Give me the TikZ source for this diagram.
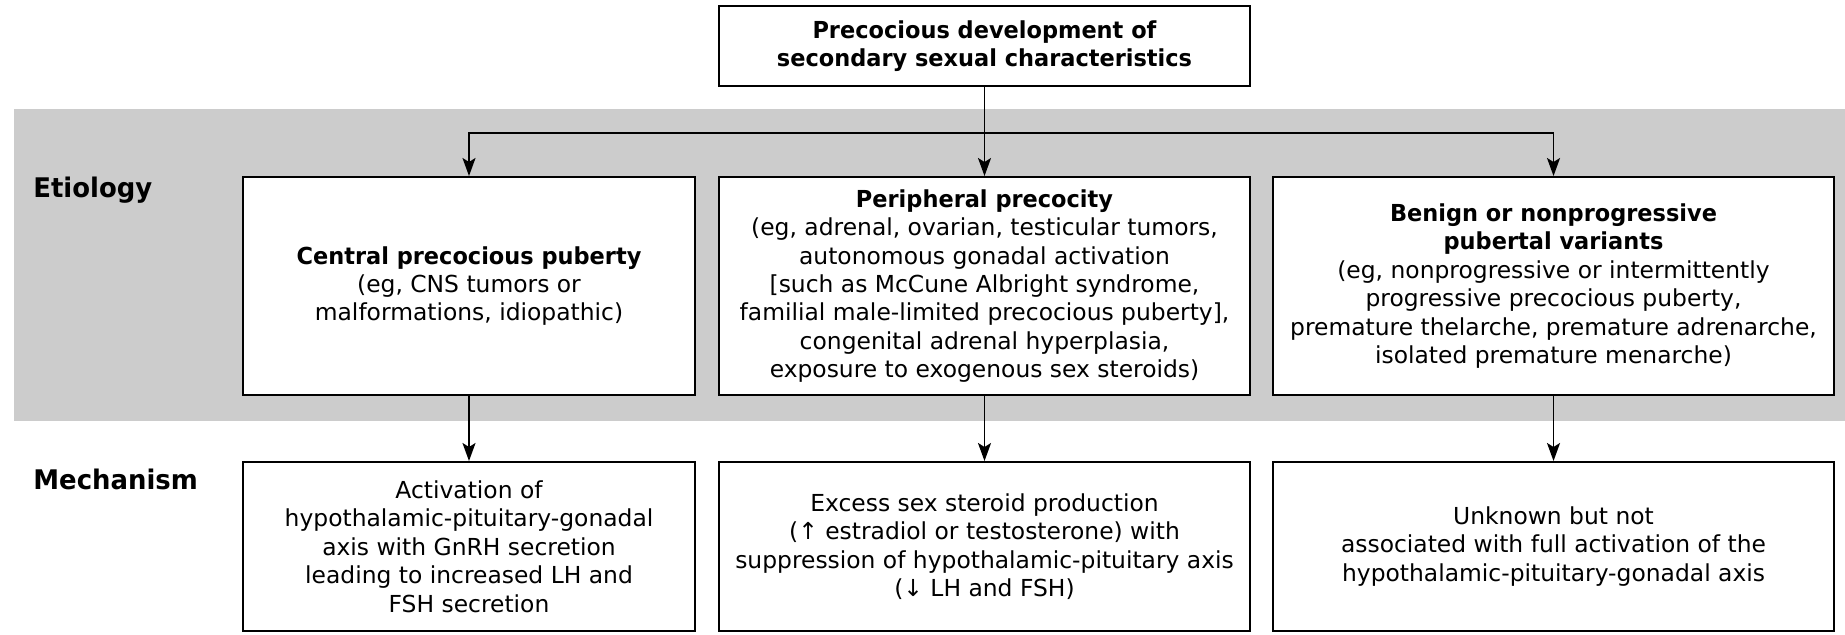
\documentclass[tikz,border=0pt]{standalone}
\usepackage{fontspec}
\setmainfont{DejaVu Sans}[BoldFeatures={FakeStretch=0.96}]
\usetikzlibrary{arrows.meta}
\definecolor{bandgray}{HTML}{CCCCCC}
\begin{document}
\begin{tikzpicture}[x=0.5pt, y=-0.5pt,
		box/.style={draw, fill=white, line width=1pt, align=center, inner sep=0pt,
			font=\fontsize{11.7}{14.2}\selectfont},
		arr/.style={-{Stealth[length=9pt, width=6.5pt, inset=2pt]}, line width=0.9pt},
		rowlabel/.style={anchor=west, font=\fontsize{13.5}{15}\selectfont\bfseries, inner sep=0pt}]
		\useasboundingbox (0,0) rectangle (1845,634);
		\fill[bandgray] (14,109) rectangle (1845,421);

		\node[box, minimum width=265.5pt, minimum height=40pt] (top) at (984.5,46)
			{\bfseries Precocious development of\\\bfseries secondary sexual characteristics};

		\node[rowlabel] (etio) at (33,190) {Etiology};
		\node[rowlabel] (mech) at (33,479) {Mechanism};

		\node[box, minimum width=226pt, minimum height=109pt] (central) at (469,286)
			{\bfseries Central precocious puberty\\(eg, CNS tumors or\\malformations, idiopathic)};
		\node[box, minimum width=265.5pt, minimum height=109pt] (periph) at (984.5,286)
			{\bfseries Peripheral precocity\\(eg, adrenal, ovarian, testicular tumors,\\autonomous gonadal activation\\{[}such as McCune Albright syndrome,\\familial male-limited precocious puberty{]},\\congenital adrenal hyperplasia,\\exposure to exogenous sex steroids)};
		\node[box, minimum width=280.5pt, minimum height=109pt] (benign) at (1553.5,286)
			{\bfseries Benign or nonprogressive\\\bfseries pubertal variants\\(eg, nonprogressive or intermittently\\progressive precocious puberty,\\premature thelarche, premature adrenarche,\\isolated premature menarche)};

		\node[box, minimum width=226pt, minimum height=84.5pt] (hpg) at (469,546.5)
			{Activation of\\hypothalamic-pituitary-gonadal\\axis with GnRH secretion\\leading to increased LH and\\FSH secretion};
		\node[box, minimum width=265.5pt, minimum height=84.5pt] (steroid) at (984.5,546.5)
			{Excess sex steroid production\\(↑ estradiol or testosterone) with\\suppression of hypothalamic-pituitary axis\\(↓ LH and FSH)};
		\node[box, minimum width=280.5pt, minimum height=84.5pt] (unknown) at (1553.5,546.5)
			{Unknown but not\\associated with full activation of the\\hypothalamic-pituitary-gonadal axis};

		\coordinate (split) at (984.5,133);
		\draw[arr] (top) -- (periph);
		\draw[arr] (split) -| (central);
		\draw[arr] (split) -| (benign);

		\draw[arr] (central) -- (hpg);
		\draw[arr] (periph) -- (steroid);
		\draw[arr] (benign) -- (unknown);
	\end{tikzpicture}
\end{document}
